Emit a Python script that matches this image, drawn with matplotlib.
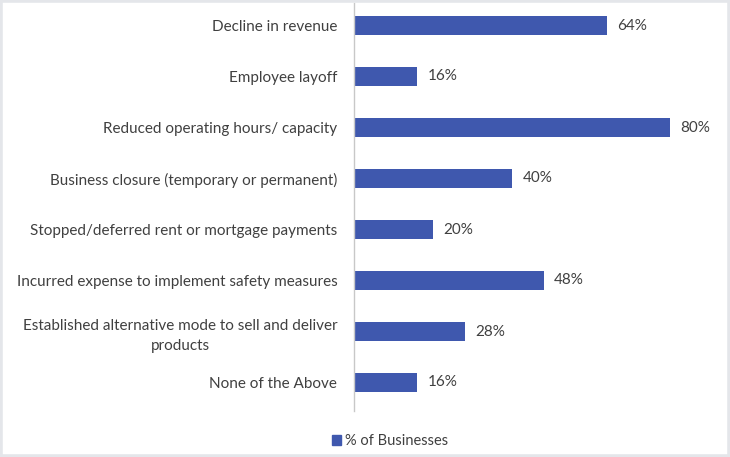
import matplotlib
matplotlib.use("Agg")
import matplotlib.pyplot as plt
from matplotlib.patches import Rectangle

categories = [
    "Decline in revenue",
    "Employee layoff",
    "Reduced operating hours/ capacity",
    "Business closure (temporary or permanent)",
    "Stopped/deferred rent or mortgage payments",
    "Incurred expense to implement safety measures",
    "Established alternative mode to sell and deliver\nproducts",
    "None of the Above",
]
values = [64, 16, 80, 40, 20, 48, 28, 16]
series_name = "% of Businesses"

BAR = "#3f58ae"
TXT = "#404040"

plt.rcParams["font.family"] = ["Lato", "DejaVu Sans"]

W, H = 730, 457
fig = plt.figure(figsize=(W / 100, H / 100), dpi=100)
fig.patch.set_facecolor("white")

# light grey frame around the chart area
fig.patches.append(Rectangle((0, 0), 1, 1, transform=fig.transFigure,
                             facecolor="none", edgecolor="#e4e6ea", linewidth=4,
                             zorder=0))

ax_left, ax_right = 354 / W, 720 / W
ax_top, ax_bottom = 1 - 0 / H, 1 - 408 / H
ax = fig.add_axes([ax_left, ax_bottom, ax_right - ax_left, ax_top - ax_bottom])
ax.set_facecolor("none")

y = list(range(len(categories)))
bars = ax.barh(y, values, height=0.37, color=BAR, zorder=2)
ax.set_ylim(len(categories) - 0.5, -0.5)
ax.set_xlim(0, (720 - 354) / 3.95)

ax.set_yticks(y)
ax.set_yticklabels(categories, fontsize=11, color=TXT, linespacing=1.55)
for lbl in ax.get_yticklabels():
    lbl.set_multialignment("center")
ax.tick_params(axis="y", length=0, pad=12)
ax.set_xticks([])

for s in ["top", "right", "bottom"]:
    ax.spines[s].set_visible(False)
ax.spines["left"].set_color("#c8c8c8")
ax.spines["left"].set_linewidth(1)
ax.spines["left"].set_bounds(len(categories) - 0.45, -0.45)

for b, v in zip(bars, values):
    ax.annotate(f"{v}%", xy=(b.get_width(), b.get_y() + b.get_height() / 2),
                xytext=(7.5, 0), textcoords="offset points", ha="left",
                va="center", fontsize=11, color=TXT)

leg = fig.legend([Rectangle((0, 0), 1, 1, color=BAR)], [series_name],
                 loc="center", bbox_to_anchor=(390 / W, 1 - 441 / H),
                 frameon=False, fontsize=10.5, handlelength=0.65,
                 handleheight=0.65, handletextpad=0.3)
for t in leg.get_texts():
    t.set_color(TXT)

fig.savefig("out.png", dpi=100)
